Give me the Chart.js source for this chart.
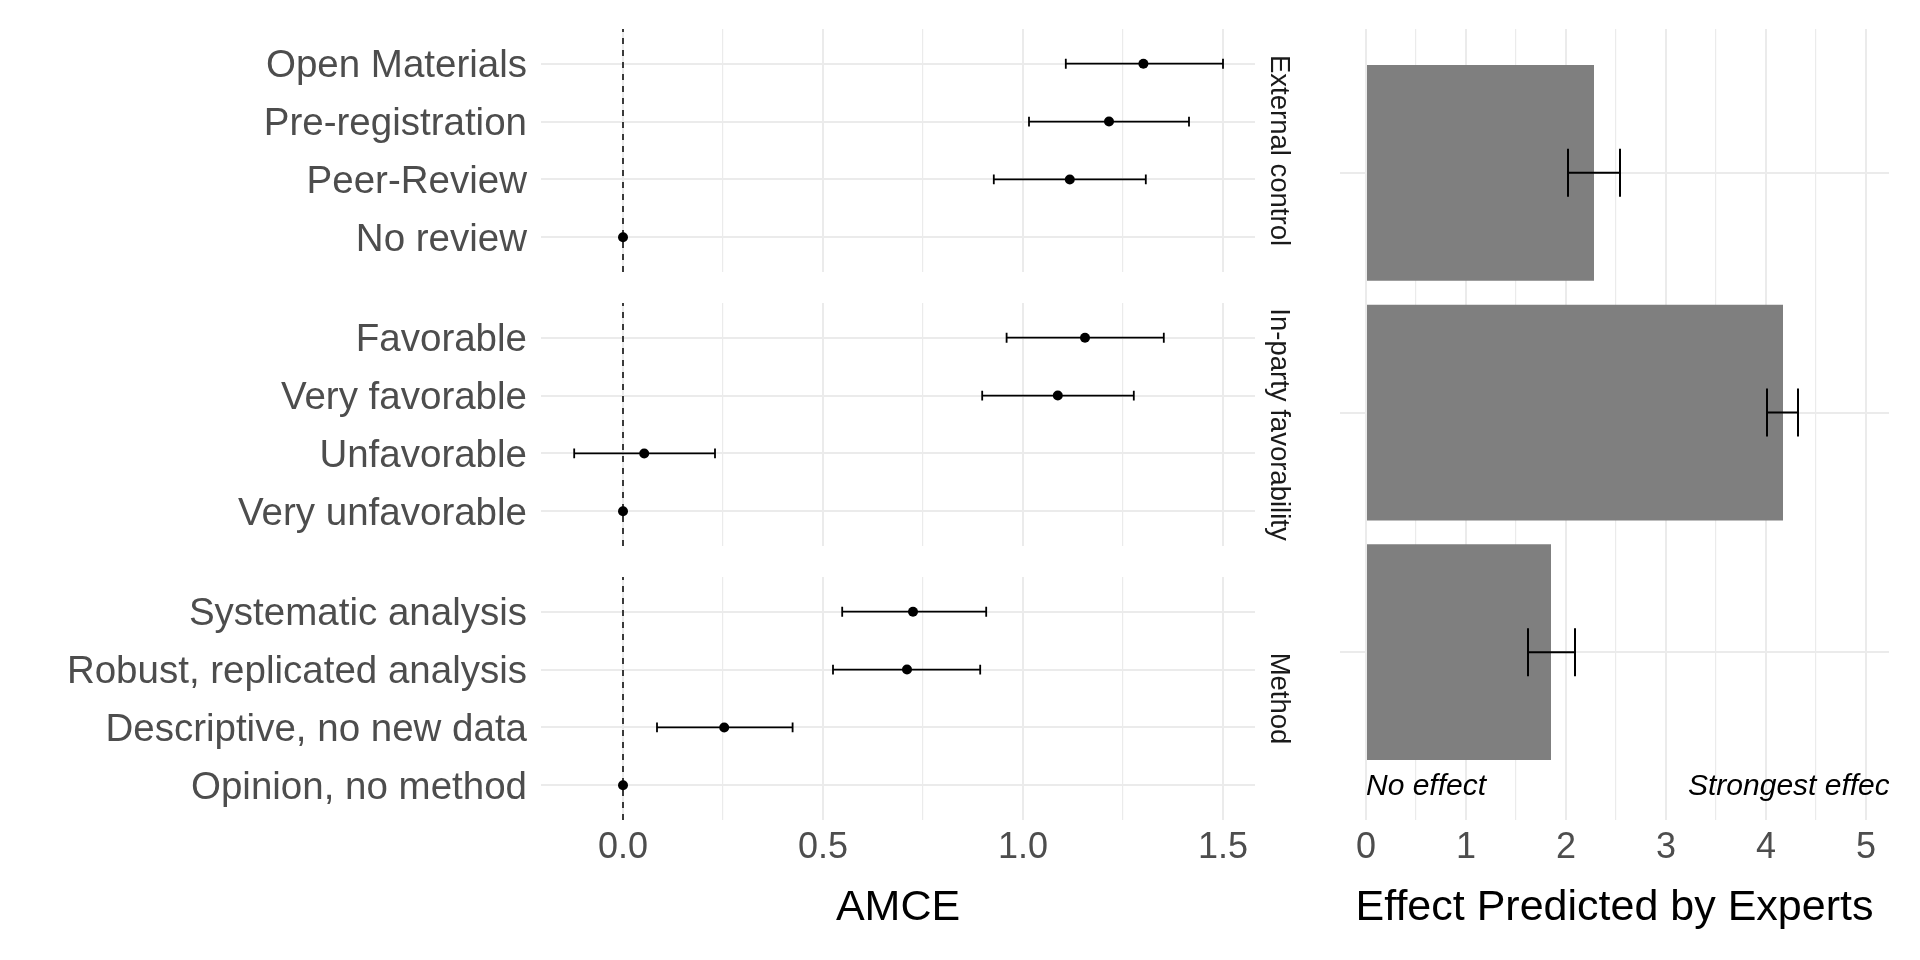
<!DOCTYPE html>
<html>
<head>
<meta charset="utf-8">
<title>AMCE and expert predictions</title>
<script src="https://cdn.jsdelivr.net/npm/chart.js@4.4.1/dist/chart.umd.min.js"></script>
<style>
  html, body { margin: 0; padding: 0; background: #fff; }
  #wrap { position: relative; width: 1920px; height: 960px; overflow: hidden; }
  #wrap canvas { position: absolute; left: 0; top: 0; }
</style>
</head>
<body>
<div id="wrap">
  <canvas id="facetExternal" width="1920" height="960"></canvas>
  <canvas id="facetParty" width="1920" height="960"></canvas>
  <canvas id="facetMethod" width="1920" height="960"></canvas>
  <canvas id="experts" width="1920" height="960"></canvas>
</div>
<script>
// facet names (also the rows of the expert panel, top to bottom)
const groups = ['External control', 'In-party favorability', 'Method'];

// AMCE estimates with 95% intervals, rows listed top to bottom
const externalLabels = ['Open Materials', 'Pre-registration', 'Peer-Review', 'No review'];
const externalEst = [1.301, 1.215, 1.117, 0];
const externalLo = [1.107, 1.015, 0.927, null];
const externalHi = [1.500, 1.415, 1.307, null];

const partyLabels = ['Favorable', 'Very favorable', 'Unfavorable', 'Very unfavorable'];
const partyEst = [1.155, 1.087, 0.053, 0];
const partyLo = [0.959, 0.898, -0.122, null];
const partyHi = [1.352, 1.277, 0.230, null];

const methodLabels = ['Systematic analysis', 'Robust, replicated analysis', 'Descriptive, no new data', 'Opinion, no method'];
const methodEst = [0.725, 0.710, 0.253, 0];
const methodLo = [0.548, 0.525, 0.085, null];
const methodHi = [0.908, 0.893, 0.424, null];

// expert predictions per facet
const expertMean = [2.28, 4.17, 1.85];
const expertLo = [2.02, 4.01, 1.62];
const expertHi = [2.54, 4.32, 2.09];

// axis ticks
const amceGrid = [0, 0.25, 0.5, 0.75, 1, 1.25, 1.5];
const amceTicks = [0, 0.5, 1, 1.5];
const amceTickLabels = ['0.0', '0.5', '1.0', '1.5'];
const expertGrid = [0, 0.5, 1, 1.5, 2, 2.5, 3, 3.5, 4, 4.5, 5];
const expertTicks = [0, 1, 2, 3, 4, 5];

// text notes under the bars
const noteLabels = ['No effect', 'Strongest effect'];
const noteX = [0, 3.22];
const noteY = 0.44;

const FONT = '"Liberation Sans", Arial, Helvetica, sans-serif';
Chart.defaults.font.family = FONT;

// horizontal error bars with caps, drawn through the chart scales
const errorBars = {
  id: 'errorBars',
  draw(chart, opts) {
    const { ctx, scales: { x, y } } = chart;
    ctx.save();
    ctx.strokeStyle = '#000';
    ctx.lineWidth = opts.width;
    opts.lo.forEach((lo, i) => {
      if (lo == null) return;
      const row = opts.rows[i];
      const yc = y.getPixelForValue(row);
      const y0 = y.getPixelForValue(row + opts.cap / 2);
      const y1 = y.getPixelForValue(row - opts.cap / 2);
      const x0 = x.getPixelForValue(lo);
      const x1 = x.getPixelForValue(opts.hi[i]);
      ctx.beginPath();
      ctx.moveTo(x0, yc); ctx.lineTo(x1, yc);
      ctx.moveTo(x0, y0); ctx.lineTo(x0, y1);
      ctx.moveTo(x1, y0); ctx.lineTo(x1, y1);
      ctx.stroke();
    });
    ctx.restore();
  },
  beforeDatasetsDraw(chart, args, opts) { if (!opts.above) this.draw(chart, opts); },
  afterDatasetsDraw(chart, args, opts) { if (opts.above) this.draw(chart, opts); }
};

// italic notes inside the expert panel
const scaleNotes = {
  id: 'scaleNotes',
  afterDatasetsDraw(chart, args, opts) {
    const { ctx, chartArea, scales: { x, y } } = chart;
    ctx.save();
    ctx.beginPath();
    ctx.rect(chartArea.left, chartArea.top, chartArea.right - chartArea.left, chartArea.bottom - chartArea.top);
    ctx.clip();
    ctx.font = 'italic 30px ' + FONT;
    ctx.fillStyle = '#000';
    ctx.textAlign = 'left';
    ctx.textBaseline = 'middle';
    opts.texts.forEach((t, i) => ctx.fillText(t, x.getPixelForValue(opts.xs[i]), y.getPixelForValue(opts.y)));
    ctx.restore();
  }
};

const Y_MIN = 0.4, Y_MAX = 4.6;

function facetChart(id, labels, est, lo, hi, strip, top, bottom, withAxis) {
  const n = labels.length;
  const rows = labels.map((_, i) => n - i);
  return new Chart(document.getElementById(id), {
    type: 'scatter',
    data: {
      datasets: [
        {
          data: est.map((v, i) => ({ x: v, y: rows[i] })),
          backgroundColor: '#000', borderWidth: 0, pointRadius: 5, pointHoverRadius: 5,
          xAxisID: 'x', yAxisID: 'y', order: 0
        },
        {
          // reference line at zero
          data: [{ x: 0, y: Y_MIN }, { x: 0, y: Y_MAX }],
          showLine: true, borderColor: '#000', borderWidth: 1.5, borderDash: [6, 6],
          pointRadius: 0, xAxisID: 'x', yAxisID: 'y', order: 1
        }
      ]
    },
    plugins: [errorBars],
    options: {
      responsive: false,
      devicePixelRatio: 1,
      animation: false,
      events: [],
      layout: {
        autoPadding: false,
        padding: { left: 0, top: top, right: 1920 - 1305, bottom: withAxis ? 960 - bottom - 140 : 960 - bottom }
      },
      plugins: {
        legend: { display: false },
        tooltip: { enabled: false },
        errorBars: { rows: rows, lo: lo, hi: hi, cap: 0.17, width: 1.8, above: false }
      },
      scales: {
        x: {
          type: 'linear', min: -0.205, max: 1.58,
          afterBuildTicks: s => { s.ticks = amceGrid.map(v => ({ value: v })); },
          afterFit: s => { s.height = withAxis ? 140 : 0; },
          ticks: {
            display: withAxis, autoSkip: false, maxRotation: 0, padding: 6,
            color: '#4d4d4d', font: { size: 36 },
            callback: v => { const k = amceTicks.indexOf(v); return k < 0 ? '' : amceTickLabels[k]; }
          },
          grid: {
            color: '#ebebeb', drawTicks: false,
            lineWidth: c => (c.tick && amceTicks.includes(c.tick.value)) ? 2 : 1.2
          },
          border: { display: false },
          title: { display: withAxis, text: 'AMCE', color: '#000', font: { size: 43 }, padding: { top: 0, bottom: 26 } }
        },
        y: {
          type: 'linear', position: 'left', min: Y_MIN, max: Y_MAX,
          afterBuildTicks: s => { s.ticks = rows.map(v => ({ value: v })); },
          // keep the label overhang from moving the panel edges
          afterFit: s => { s.width = 541; s.paddingTop = 0; s.paddingBottom = 0; },
          ticks: {
            autoSkip: false, padding: 14, labelOffset: 3, color: '#4d4d4d', font: { size: 38.5 },
            callback: v => labels[n - v]
          },
          grid: { color: '#ebebeb', lineWidth: 2, drawTicks: false },
          border: { display: false }
        },
        strip: {
          type: 'linear', axis: 'y', position: 'right', min: Y_MIN, max: Y_MAX,
          afterFit: s => { s.width = 50; s.paddingTop = 0; s.paddingBottom = 0; },
          ticks: { display: false },
          grid: { display: false, drawTicks: false },
          border: { display: false },
          title: { display: true, text: strip, color: '#1a1a1a', font: { size: 27.5 }, padding: { top: 10, bottom: 0 } }
        }
      }
    }
  });
}

facetChart('facetExternal', externalLabels, externalEst, externalLo, externalHi, groups[0], 29, 272, false);
facetChart('facetParty', partyLabels, partyEst, partyLo, partyHi, groups[1], 303, 546, false);
facetChart('facetMethod', methodLabels, methodEst, methodLo, methodHi, groups[2], 577, 820, true);

// expert panel: one bar per facet, top to bottom
const expertRows = groups.map((_, i) => groups.length - i);

new Chart(document.getElementById('experts'), {
  type: 'bar',
  data: {
    datasets: [{
      data: expertMean.map((v, i) => ({ x: v, y: expertRows[i] })),
      backgroundColor: '#7f7f7f',
      borderWidth: 0,
      barPercentage: 0.9,
      categoryPercentage: 1,
      xAxisID: 'x', yAxisID: 'y'
    }]
  },
  plugins: [errorBars, scaleNotes],
  options: {
    indexAxis: 'y',
    responsive: false,
    devicePixelRatio: 1,
    animation: false,
    events: [],
    layout: { autoPadding: false, padding: { left: 1340, top: 29, right: 31, bottom: 0 } },
    plugins: {
      legend: { display: false },
      tooltip: { enabled: false },
      errorBars: { rows: expertRows, lo: expertLo, hi: expertHi, cap: 0.2, width: 2, above: true },
      scaleNotes: { texts: noteLabels, xs: noteX, y: noteY }
    },
    scales: {
      x: {
        type: 'linear', min: -0.26, max: 5.23,
        afterBuildTicks: s => { s.ticks = expertGrid.map(v => ({ value: v })); },
        afterFit: s => { s.height = 140; },
        ticks: {
          autoSkip: false, maxRotation: 0, padding: 6, color: '#4d4d4d', font: { size: 36 },
          callback: v => expertTicks.includes(v) ? String(v) : ''
        },
        grid: {
          color: '#ebebeb', drawTicks: false,
          lineWidth: c => (c.tick && expertTicks.includes(c.tick.value)) ? 2 : 1.2
        },
        border: { display: false },
        title: { display: true, text: 'Effect Predicted by Experts', color: '#000', font: { size: 43 }, padding: { top: 0, bottom: 26 } }
      },
      y: {
        type: 'linear', min: 0.3, max: 3.6, offset: false,
        afterBuildTicks: s => { s.ticks = expertRows.map(v => ({ value: v })); },
        afterFit: s => { s.width = 0; },
        ticks: { display: false },
        grid: { color: '#ebebeb', lineWidth: 2, drawTicks: false, offset: false },
        border: { display: false }
      }
    }
  }
});
</script>
</body>
</html>
